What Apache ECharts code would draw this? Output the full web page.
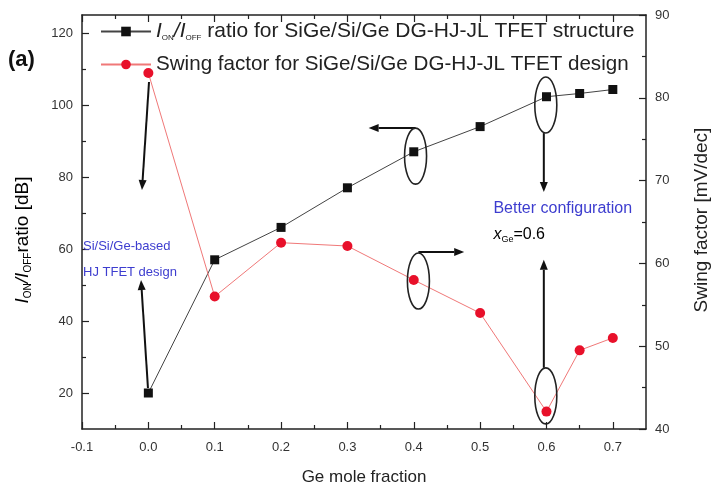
<!DOCTYPE html>
<html><head><meta charset="utf-8">
<script src="https://cdn.jsdelivr.net/npm/echarts@6/dist/echarts.min.js"></script>
<style>html,body{margin:0;padding:0;background:#fff}#c{width:718px;height:491px}</style>
</head><body><div id="c"></div>
<script>
// ---- data ----
const geFraction   = [0.0, 0.1, 0.2, 0.3, 0.4, 0.5, 0.6, 0.65, 0.7];
const ionIoffRatio = [20, 57, 66, 77, 87, 94, 102.3, 103.2, 104.3];
const swingFactor  = [83, 56, 62.5, 62.1, 58, 54, 42.1, 49.5, 51];
const xTicks       = [-0.1, 0.0, 0.1, 0.2, 0.3, 0.4, 0.5, 0.6, 0.7];
const xMinorTicks  = [-0.05, 0.05, 0.15, 0.25, 0.35, 0.45, 0.55, 0.65];
const leftTicks    = [20, 40, 60, 80, 100, 120];
const leftMinor    = [30, 50, 70, 90, 110];
const rightTicks   = [40, 50, 60, 70, 80, 90];
const rightMinor   = [45, 55, 65, 75, 85];

const FONT = 'Liberation Sans, Arial, sans-serif';
const AX = '#222';
const chart = echarts.init(document.getElementById('c'));

function xAx(pos, ticks, len, showLine, showLabel, extra) {
  return Object.assign({
    type: 'value', min: -0.1, max: 0.75, position: pos,
    axisLine: {show: showLine, onZero: false, lineStyle: {color: AX, width: 1.5}},
    axisTick: {show: true, inside: true, length: len, customValues: ticks, lineStyle: {color: AX, width: 1.2}},
    axisLabel: {show: showLabel, customValues: ticks, formatter: v => v.toFixed(1), color: '#333', fontSize: 13, fontFamily: FONT, margin: 12},
    splitLine: {show: false}
  }, extra || {});
}
function yAx(pos, min, max, ticks, len, showLine, showLabel) {
  return {
    type: 'value', min: min, max: max, position: pos,
    axisLine: {show: showLine, onZero: false, lineStyle: {color: AX, width: 1.5}},
    axisTick: {show: true, inside: true, length: len, customValues: ticks, lineStyle: {color: AX, width: 1.2}},
    axisLabel: {show: showLabel, customValues: ticks, color: '#333', fontSize: 13, fontFamily: FONT, margin: 9},
    splitLine: {show: false}
  };
}

const richSub = {
  it: {fontStyle: 'italic', fontSize: 21, fontFamily: FONT, color: '#222'},
  sb: {fontSize: 8, fontFamily: FONT, color: '#222', padding: [13, 0, 0, 0]},
  n: {fontSize: 21, fontFamily: FONT, color: '#222'},
  n2: {fontSize: 20.6, fontFamily: FONT, color: '#222'}
};

const option = {
  animation: false,
  backgroundColor: '#fff',
  grid: {left: 82, right: 72, top: 15, bottom: 61, containLabel: false},
  xAxis: [
    xAx('bottom', xTicks, 7, true, true, {name: 'Ge mole fraction', nameLocation: 'middle', nameGap: 40,
      nameTextStyle: {fontSize: 17, fontFamily: FONT, color: '#222'}}),
    xAx('bottom', xMinorTicks, 4, false, false),
    xAx('top', xTicks, 7, true, false),
    xAx('top', xMinorTicks, 4, false, false)
  ],
  yAxis: [
    yAx('left', 10, 125, leftTicks, 7, true, true),
    yAx('left', 10, 125, leftMinor, 4, false, false),
    yAx('right', 40, 90, rightTicks, 7, true, true),
    yAx('right', 40, 90, rightMinor, 4, false, false)
  ],
  legend: {
    orient: 'vertical', left: 100, top: 21, padding: 0, itemWidth: 50, itemHeight: 12, itemGap: 12,
    textStyle: {fontSize: 21, fontFamily: FONT, color: '#222', rich: richSub},
    formatter: function (name) {
      if (name === 'ratio') return '{it|I}{sb|ON}{it|/I}{sb|OFF}{n| ratio for SiGe/Si/Ge DG-HJ-JL TFET structure}';
      return '{n2|Swing factor for SiGe/Si/Ge DG-HJ-JL TFET design}';
    }
  },
  series: [
    {name: 'ratio', type: 'line', xAxisIndex: 0, yAxisIndex: 0,
     data: geFraction.map((x, i) => [x, ionIoffRatio[i]]),
     symbol: 'rect', symbolSize: 9, lineStyle: {color: '#444', width: 1},
     itemStyle: {color: '#111'}, z: 3},
    {name: 'swing', type: 'line', xAxisIndex: 0, yAxisIndex: 2,
     data: geFraction.map((x, i) => [x, swingFactor[i]]),
     symbol: 'circle', symbolSize: 10, lineStyle: {color: '#f07878', width: 1},
     itemStyle: {color: '#e8102a'}, z: 3}
  ]
};
chart.setOption(option);

// ---- annotations (in data coordinates of the left axis) ----
function P(x, y) { return chart.convertToPixel({xAxisIndex: 0, yAxisIndex: 0}, [x, y]); }
const arrows = [
  [[0.001, 106.4], [-0.0096, 76.4]],
  [[-0.0006, 21.4], [-0.011, 51.4]],
  [[0.4027, 93.6], [0.332, 93.6]],
  [[0.407, 59.2], [0.476, 59.2]],
  [[0.596, 92.2], [0.596, 75.8]],
  [[0.596, 27.0], [0.596, 57.0]]
];
const ellipses = [[0.4027, 85.8], [0.407, 51.1], [0.599, 100.0], [0.599, 19.2]];
const g = [];
arrows.forEach(a => {
  const p0 = P(a[0][0], a[0][1]), p1 = P(a[1][0], a[1][1]);
  const dx = p1[0] - p0[0], dy = p1[1] - p0[1], L = Math.hypot(dx, dy);
  const ux = dx / L, uy = dy / L, hl = 10, hw = 4;
  const bx = p1[0] - ux * hl, by = p1[1] - uy * hl;
  g.push({type: 'line', shape: {x1: p0[0], y1: p0[1], x2: bx, y2: by}, style: {stroke: '#111', lineWidth: 2}, z: 10});
  g.push({type: 'polygon', shape: {points: [[p1[0], p1[1]], [bx - uy * hw, by + ux * hw], [bx + uy * hw, by - ux * hw]]},
          style: {fill: '#111'}, z: 10});
});
ellipses.forEach(e => {
  const c = P(e[0], e[1]);
  g.push({type: 'ellipse', shape: {cx: c[0], cy: c[1], rx: 11, ry: 28}, style: {fill: 'none', stroke: '#222', lineWidth: 1.6}, z: 10});
});
const BLUE = '#3d3dcf';
const t1 = P(-0.1, 60.8), t2 = P(-0.1, 53.6), t3 = P(0.52, 71.3), t4 = P(0.52, 64);
g.push({type: 'text', x: t1[0] + 1, y: t1[1], style: {text: 'Si/Si/Ge-based', fill: BLUE, font: '13px ' + FONT, verticalAlign: 'middle'}, z: 10});
g.push({type: 'text', x: t2[0] + 1, y: t2[1], style: {text: 'HJ TFET design', fill: BLUE, font: '13px ' + FONT, verticalAlign: 'middle'}, z: 10});
g.push({type: 'text', x: t3[0], y: t3[1], style: {text: 'Better configuration', fill: BLUE, font: '16px ' + FONT, verticalAlign: 'middle'}, z: 10});
g.push({type: 'text', x: t4[0], y: t4[1], style: {
  text: '{i|x}{s|Ge}{n|=0.6}', verticalAlign: 'middle',
  rich: {i: {fontStyle: 'italic', fontSize: 16, fontFamily: FONT, color: BLUE},
         s: {fontSize: 9, fontFamily: FONT, color: BLUE, padding: [10, 0, 0, 0]},
         n: {fontSize: 16, fontFamily: FONT, color: BLUE}}}, z: 10});
// (a) label
g.push({type: 'text', x: 8, y: 60, style: {text: '(a)', font: 'bold 22px ' + FONT, fill: '#111', verticalAlign: 'middle'}, z: 10});
// axis titles
g.push({type: 'text', x: 23, y: 240, rotation: Math.PI / 2, style: {
  text: '{it|I}{sb|ON}{it|/I}{sb|OFF}{n|ratio [dB]}', align: 'center', verticalAlign: 'middle',
  rich: {it: {fontStyle: 'italic', fontSize: 19, fontFamily: FONT, color: '#222'},
         sb: {fontSize: 10, fontFamily: FONT, color: '#222', padding: [11, 0, 0, 0]},
         n: {fontSize: 19, fontFamily: FONT, color: '#222'}}}, z: 10});
g.push({type: 'text', x: 702, y: 220, rotation: Math.PI / 2, style: {
  text: 'Swing factor [mV/dec]', font: '19px ' + FONT, fill: '#222', align: 'center', verticalAlign: 'middle'}, z: 10});
chart.setOption({graphic: g});
</script></body></html>
